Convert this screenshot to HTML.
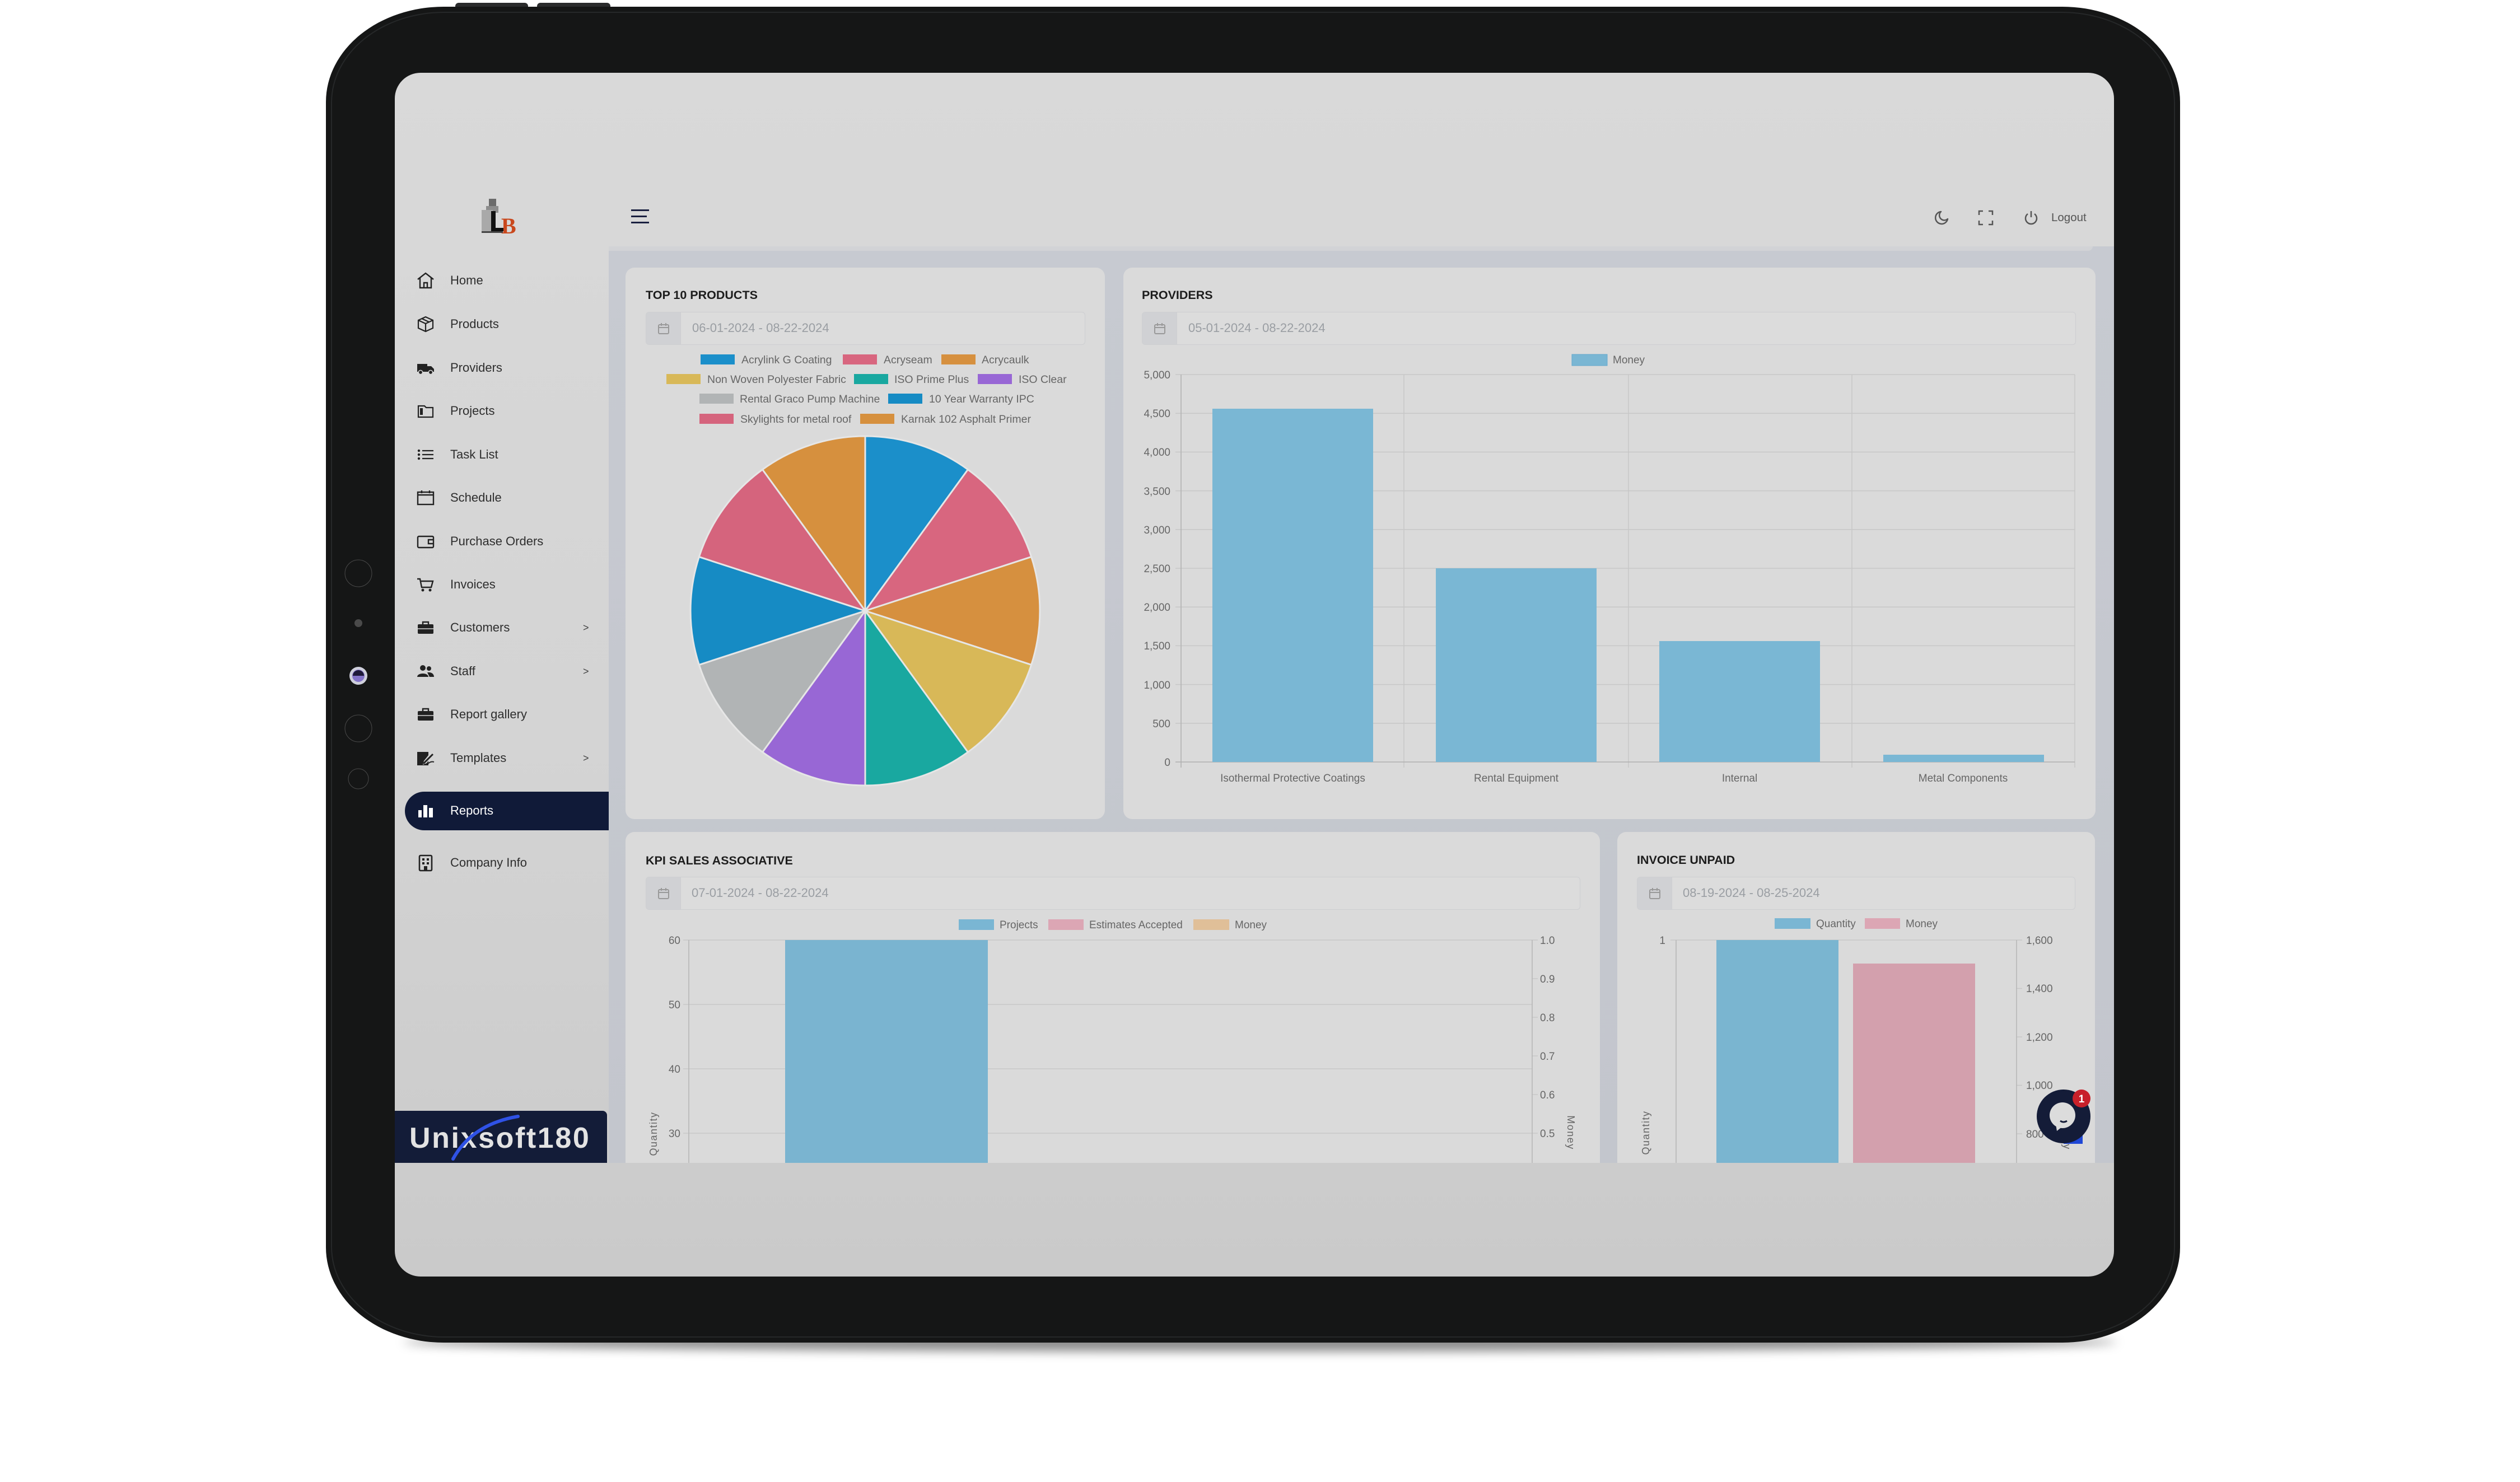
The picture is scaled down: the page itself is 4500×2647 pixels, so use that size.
<!DOCTYPE html>
<html><head><meta charset="utf-8">
<style>
*{margin:0;padding:0;box-sizing:border-box}
body{width:4500px;height:2647px;background:#fff;position:relative;overflow:hidden;font-family:"Liberation Sans",Arial,sans-serif}
.abs{position:absolute}
#shadow{left:720px;top:2380px;width:3060px;height:34px;background:rgba(0,0,0,0.45);filter:blur(9px);border-radius:50%}
#frame{left:582px;top:12px;width:3311px;height:2386px;background:#151616;border-radius:210px/170px}
#rim{left:591px;top:21px;width:3293px;height:2368px;border:2px solid #262829;border-radius:202px/162px}
#screen{left:705px;top:130px;width:3070px;height:2150px;border-radius:46px;overflow:hidden;background:linear-gradient(180deg,#d9d9d9 0%,#d4d4d4 55%,#cacaca 100%)}
.mi{position:absolute;left:99px;height:30px;line-height:30px;font-size:22px;color:#2e2e2e;white-space:nowrap}
.ico{position:absolute;left:38px;width:34px;height:34px}
.chev{position:absolute;left:336px;height:30px;line-height:30px;font-size:18px;color:#444}
#content{position:absolute;left:382px;top:310px;width:2688px;height:1637px;background:linear-gradient(180deg,#c7cad1,#c3c6cd);overflow:hidden}
.card{position:absolute;background:#dadada;border-radius:16px;overflow:hidden}
.title{position:absolute;font-weight:bold;font-size:21.5px;color:#1d1d1d;height:30px;line-height:30px;white-space:nowrap}
.date{position:absolute;height:59px;border:1.5px solid #cdced1;border-radius:6px;background:#dcdcdc;overflow:hidden}
.date .ad{position:absolute;left:0;top:0;width:62px;height:100%;background:#d0d1d4;border-right:1.5px solid #cdced1}
.date .tx{position:absolute;top:0;line-height:56px;font-size:22px;color:#9a9ea3;white-space:nowrap}
svg text{font-family:"Liberation Sans",Arial,sans-serif}
</style></head><body>

<div id="shadow" class="abs"></div>
<div class="abs" style="left:813px;top:5px;width:130px;height:12px;background:#2a2b2c;border-radius:6px 6px 0 0"></div>
<div class="abs" style="left:959px;top:5px;width:131px;height:12px;background:#2a2b2c;border-radius:6px 6px 0 0"></div>
<div id="frame" class="abs"></div>
<div id="rim" class="abs"></div>

<!-- bezel sensors -->
<svg class="abs" style="left:600px;top:980px" width="80" height="460">
<circle cx="40" cy="44" r="24" fill="none" stroke="#4a4a4a" stroke-width="1"/>
<circle cx="40" cy="133" r="7" fill="#4a4a4a"/>
<circle cx="40" cy="227" r="16" fill="#cfd0dc"/>
<circle cx="40" cy="227" r="11" fill="#8373c9"/>
<path d="M30,227 A10,10 0 0 1 50,227 Z" fill="#1e1a3a"/>
<circle cx="40" cy="321" r="24" fill="none" stroke="#4a4a4a" stroke-width="1"/>
<circle cx="40" cy="411" r="18" fill="none" stroke="#4a4a4a" stroke-width="1"/>
</svg>

<div id="screen" class="abs">

  <!-- logo -->
  <svg class="abs" style="left:150px;top:220px" width="80" height="75">
    <rect x="18" y="5" width="13" height="22" fill="#6c6c6c"/>
    <rect x="13" y="18" width="22" height="12" fill="#8d8d8d"/>
    <rect x="5" y="25" width="20" height="40" fill="#a9a9a9"/>
    <rect x="22" y="27" width="8" height="36" fill="#111"/>
    <rect x="22" y="57" width="22" height="6" fill="#111"/>
    <text x="40" y="67" font-size="40" font-weight="bold" style="font-family:'Liberation Serif',serif" fill="#c9481d">B</text>
    <rect x="5" y="63" width="38" height="3" fill="#444"/>
  </svg>

  <!-- hamburger -->
  <div class="abs" style="left:422px;top:244px;width:32px;height:3px;background:#1a2040"></div>
  <div class="abs" style="left:422px;top:255px;width:28px;height:3px;background:#1a2040"></div>
  <div class="abs" style="left:422px;top:266px;width:32px;height:3px;background:#1a2040"></div>

  <!-- header right -->
  <svg class="abs" style="left:2748px;top:245px" width="28" height="28"><path d="M13 3 A11 11 0 1 0 25 16 A8.5 8.5 0 0 1 13 3 Z" fill="none" stroke="#555" stroke-width="2.5" stroke-linejoin="round"/></svg>
  <svg class="abs" style="left:2827px;top:245px" width="28" height="28"><path d="M2 9 V2 H9 M19 2 H26 V9 M26 19 V26 H19 M9 26 H2 V19" fill="none" stroke="#555" stroke-width="2.5"/></svg>
  <svg class="abs" style="left:2908px;top:245px" width="28" height="28"><path d="M8 7 A10 10 0 1 0 20 7" fill="none" stroke="#555" stroke-width="2.5"/><path d="M14 2 V13" stroke="#555" stroke-width="2.5"/></svg>
  <div class="abs" style="left:2958px;top:244px;height:30px;line-height:30px;font-size:20.5px;color:#555">Logout</div>

  <!-- sidebar -->
  <svg class="ico" style="top:354px" viewBox="0 0 34 34"><path d="M3 15 L17 4 L31 15 M7 12 V30 H27 V12 M14 30 V21 H20 V30" fill="none" stroke="#222" stroke-width="2.4"/></svg>
  <div class="mi" style="top:356px">Home</div>
  <svg class="ico" style="top:432px" viewBox="0 0 34 34"><path d="M17 4 L30 10 V24 L17 30 L4 24 V10 Z M4 10 L17 16 L30 10 M17 16 V30 M10 7 L23 13" fill="none" stroke="#222" stroke-width="2.2"/></svg>
  <div class="mi" style="top:434px">Products</div>
  <svg class="ico" style="top:510px" viewBox="0 0 34 34"><path d="M2 10 H20 V24 H2 Z M20 14 H27 L32 19 V24 H20 Z" fill="#222"/><circle cx="8" cy="25" r="3.6" fill="#222" stroke="#d6d6d6" stroke-width="1.5"/><circle cx="26" cy="25" r="3.6" fill="#222" stroke="#d6d6d6" stroke-width="1.5"/></svg>
  <div class="mi" style="top:512px">Providers</div>
  <svg class="ico" style="top:587px" viewBox="0 0 34 34"><path d="M4 8 H15 L18 11 H30 V28 H4 Z" fill="none" stroke="#222" stroke-width="2.2"/><rect x="7" y="12" width="5" height="12" fill="#222"/></svg>
  <div class="mi" style="top:589px">Projects</div>
  <svg class="ico" style="top:665px" viewBox="0 0 34 34"><circle cx="5" cy="10" r="2.2" fill="#222"/><circle cx="5" cy="17" r="2.2" fill="#222"/><circle cx="5" cy="24" r="2.2" fill="#222"/><path d="M11 10 H31 M11 17 H31 M11 24 H31" stroke="#222" stroke-width="2.2"/></svg>
  <div class="mi" style="top:667px">Task List</div>
  <svg class="ico" style="top:742px" viewBox="0 0 34 34"><rect x="3" y="7" width="28" height="22" fill="none" stroke="#222" stroke-width="2.4"/><path d="M3 12 H31 M10 4 V9 M24 4 V9" stroke="#222" stroke-width="2.4"/></svg>
  <div class="mi" style="top:744px">Schedule</div>
  <svg class="ico" style="top:820px" viewBox="0 0 34 34"><rect x="3" y="8" width="28" height="20" rx="2" fill="none" stroke="#222" stroke-width="2.4"/><path d="M31 14 H22 V21 H31" fill="none" stroke="#222" stroke-width="2.4"/></svg>
  <div class="mi" style="top:822px">Purchase Orders</div>
  <svg class="ico" style="top:897px" viewBox="0 0 34 34"><path d="M2 7 H7 L10 22 H27 L30 11 H9" fill="none" stroke="#222" stroke-width="2.4"/><circle cx="12" cy="27" r="2.5" fill="#222"/><circle cx="25" cy="27" r="2.5" fill="#222"/></svg>
  <div class="mi" style="top:899px">Invoices</div>
  <svg class="ico" style="top:974px" viewBox="0 0 34 34"><rect x="3" y="11" width="28" height="17" rx="2" fill="#222"/><path d="M12 11 V7 H22 V11" fill="none" stroke="#222" stroke-width="2.4"/><path d="M3 19 H31" stroke="#d6d6d6" stroke-width="1.5"/></svg>
  <div class="mi" style="top:976px">Customers</div><div class="chev" style="top:976px">&gt;</div>
  <svg class="ico" style="top:1052px" viewBox="0 0 34 34"><circle cx="12" cy="11" r="5" fill="#222"/><path d="M2 27 C2 19 22 19 22 27 Z" fill="#222"/><circle cx="23" cy="12" r="4" fill="#222"/><path d="M20 19 C28 18 32 22 32 27 H24" fill="#222"/></svg>
  <div class="mi" style="top:1054px">Staff</div><div class="chev" style="top:1054px">&gt;</div>
  <svg class="ico" style="top:1129px" viewBox="0 0 34 34"><rect x="3" y="11" width="28" height="17" rx="2" fill="#222"/><path d="M12 11 V7 H22 V11" fill="none" stroke="#222" stroke-width="2.4"/><path d="M3 19 H31" stroke="#d6d6d6" stroke-width="1.5"/></svg>
  <div class="mi" style="top:1131px">Report gallery</div>
  <svg class="ico" style="top:1207px" viewBox="0 0 34 34"><path d="M2 6 H22 V12 L14 22 L12 29 L19 26 L22 22 V30 H2 Z" fill="#222"/><path d="M13 27 L30 10" stroke="#222" stroke-width="3"/><path d="M20 28 Q26 22 32 24" fill="none" stroke="#222" stroke-width="2"/></svg>
  <div class="mi" style="top:1209px">Templates</div><div class="chev" style="top:1209px">&gt;</div>
  <div class="abs" style="left:18px;top:1284px;width:364px;height:69px;background:#101a38;border-radius:35px 0 0 35px"></div>
  <svg class="ico" style="top:1301px" viewBox="0 0 34 34"><rect x="4" y="16" width="6" height="13" fill="#fff"/><rect x="13" y="7" width="7" height="22" fill="#fff"/><rect x="23" y="12" width="7" height="17" fill="#fff"/></svg>
  <div class="mi" style="top:1303px;color:#fff">Reports</div>
  <svg class="ico" style="top:1394px" viewBox="0 0 34 34"><rect x="6" y="4" width="22" height="27" rx="2" fill="none" stroke="#222" stroke-width="2.6"/><rect x="11" y="9" width="4" height="4" fill="#222"/><rect x="19" y="9" width="4" height="4" fill="#222"/><rect x="11" y="16" width="4" height="4" fill="#222"/><rect x="19" y="16" width="4" height="4" fill="#222"/><rect x="14" y="23" width="6" height="8" fill="#222"/></svg>
  <div class="mi" style="top:1396px">Company Info</div>

  <!-- Unixsoft banner -->
  <div class="abs" style="left:0;top:1854px;width:379px;height:93px;background:#131c38;border-radius:0 8px 0 0"></div>
  <div class="abs" style="left:26px;top:1872px;height:62px;line-height:62px;font-size:52px;font-weight:bold;letter-spacing:2.6px;color:#e3e3e3;white-space:nowrap">Unixsoft180</div>
  <svg class="abs" style="left:0;top:1854px" width="379" height="93"><path d="M104 86 Q138 24 220 10" fill="none" stroke="#2f52e6" stroke-width="6" stroke-linecap="round"/></svg>

  <!-- content -->
  <div id="content">
    <div class="abs" style="left:0;top:0;width:2650px;height:8px;background:#d2d3d6;border-radius:0 0 8px 0"></div>

    <!-- Card 1 -->
    <div class="card" style="left:30px;top:38px;width:856px;height:985px">
      <div class="title" style="left:36px;top:34px">TOP 10 PRODUCTS</div>
      <div class="date" style="left:36px;top:79px;width:785px">
        <div class="ad"></div>
        <svg class="abs" style="left:20px;top:18px" width="22" height="22"><rect x="2" y="4" width="18" height="16" rx="2" fill="none" stroke="#999" stroke-width="2"/><path d="M2 9 H20 M7 1 V6 M15 1 V6" stroke="#999" stroke-width="2"/></svg>
        <div class="tx" style="left:82px">06-01-2024 - 08-22-2024</div>
      </div>
      <svg class="abs" style="left:0;top:0" width="856" height="985">
        <g font-size="19.5" fill="#666">
          <rect x="134" y="155" width="61" height="18" fill="#1b8fca"/><text x="207" y="171">Acrylink G Coating</text>
          <rect x="388" y="155" width="61" height="18" fill="#d8667f"/><text x="461" y="171">Acryseam</text>
          <rect x="564" y="155" width="61" height="18" fill="#d6903f"/><text x="636" y="171">Acrycaulk</text>
          <rect x="73" y="190" width="61" height="18" fill="#d8b858"/><text x="146" y="206">Non Woven Polyester Fabric</text>
          <rect x="408" y="190" width="61" height="18" fill="#19a8a0"/><text x="480" y="206">ISO Prime Plus</text>
          <rect x="629" y="190" width="61" height="18" fill="#9867d5"/><text x="702" y="206">ISO Clear</text>
          <rect x="132" y="225" width="61" height="18" fill="#b1b4b5"/><text x="204" y="241">Rental Graco Pump Machine</text>
          <rect x="469" y="225" width="61" height="18" fill="#168bc4"/><text x="542" y="241">10 Year Warranty IPC</text>
          <rect x="132" y="261" width="61" height="18" fill="#d5647d"/><text x="205" y="277">Skylights for metal roof</text>
          <rect x="419" y="261" width="61" height="18" fill="#d6903e"/><text x="492" y="277">Karnak 102 Asphalt Primer</text>
        </g>
        <g stroke="#e6e6e6" stroke-width="3" stroke-linejoin="round">
          <path d="M428,613 L428,301 A312,312 0 0 1 611.4,360.6 Z" fill="#1b8fca"/>
          <path d="M428,613 L611.4,360.6 A312,312 0 0 1 724.7,516.6 Z" fill="#d8667f"/>
          <path d="M428,613 L724.7,516.6 A312,312 0 0 1 724.7,709.4 Z" fill="#d6903f"/>
          <path d="M428,613 L724.7,709.4 A312,312 0 0 1 611.4,865.4 Z" fill="#d8b858"/>
          <path d="M428,613 L611.4,865.4 A312,312 0 0 1 428,925 Z" fill="#19a8a0"/>
          <path d="M428,613 L428,925 A312,312 0 0 1 244.6,865.4 Z" fill="#9867d5"/>
          <path d="M428,613 L244.6,865.4 A312,312 0 0 1 131.3,709.4 Z" fill="#b1b4b5"/>
          <path d="M428,613 L131.3,709.4 A312,312 0 0 1 131.3,516.6 Z" fill="#168bc4"/>
          <path d="M428,613 L131.3,516.6 A312,312 0 0 1 244.6,360.6 Z" fill="#d5647d"/>
          <path d="M428,613 L244.6,360.6 A312,312 0 0 1 428,301 Z" fill="#d6903e"/>
        </g>
      </svg>
    </div>

    <!-- Card 2 -->
    <div class="card" style="left:919px;top:38px;width:1736px;height:985px">
      <div class="title" style="left:33px;top:34px">PROVIDERS</div>
      <div class="date" style="left:33px;top:79px;width:1668px">
        <div class="ad"></div>
        <svg class="abs" style="left:20px;top:18px" width="22" height="22"><rect x="2" y="4" width="18" height="16" rx="2" fill="none" stroke="#999" stroke-width="2"/><path d="M2 9 H20 M7 1 V6 M15 1 V6" stroke="#999" stroke-width="2"/></svg>
        <div class="tx" style="left:82px">05-01-2024 - 08-22-2024</div>
      </div>
      <svg class="abs" style="left:0;top:0" width="1736" height="985">
        <rect x="801" y="155" width="63" height="20" fill="#7ab6d3" stroke="#62a8cc" stroke-width="1"/>
        <text x="874" y="171" font-size="19" fill="#666">Money</text>
        <g stroke="#c7c7c7" stroke-width="1.5">
          <line x1="93" y1="191" x2="1699" y2="191"/><line x1="93" y1="260.2" x2="1699" y2="260.2"/>
          <line x1="93" y1="329.4" x2="1699" y2="329.4"/><line x1="93" y1="398.6" x2="1699" y2="398.6"/>
          <line x1="93" y1="467.8" x2="1699" y2="467.8"/><line x1="93" y1="537" x2="1699" y2="537"/>
          <line x1="93" y1="606.2" x2="1699" y2="606.2"/><line x1="93" y1="675.4" x2="1699" y2="675.4"/>
          <line x1="93" y1="744.6" x2="1699" y2="744.6"/><line x1="93" y1="813.8" x2="1699" y2="813.8"/>
          <line x1="501" y1="191" x2="501" y2="893"/><line x1="902" y1="191" x2="902" y2="893"/>
          <line x1="1301" y1="191" x2="1301" y2="893"/><line x1="1699" y1="191" x2="1699" y2="893"/>
        </g>
        <g stroke="#b0b0b0" stroke-width="1.5"><line x1="93" y1="883" x2="1699" y2="883"/><line x1="103" y1="191" x2="103" y2="893"/></g>
        <g font-size="19" fill="#666" text-anchor="end">
          <text x="84" y="198">5,000</text><text x="84" y="267">4,500</text><text x="84" y="336">4,000</text>
          <text x="84" y="406">3,500</text><text x="84" y="475">3,000</text><text x="84" y="544">2,500</text>
          <text x="84" y="613">2,000</text><text x="84" y="682">1,500</text><text x="84" y="752">1,000</text>
          <text x="84" y="821">500</text><text x="84" y="890">0</text>
        </g>
        <g fill="#7ab7d4">
          <rect x="159" y="252" width="287" height="631"/>
          <rect x="558" y="537" width="287" height="346"/>
          <rect x="957" y="667" width="287" height="216"/>
          <rect x="1357" y="870" width="287" height="13"/>
        </g>
        <g font-size="19" fill="#666" text-anchor="middle">
          <text x="302.5" y="918">Isothermal Protective Coatings</text>
          <text x="701.5" y="918">Rental Equipment</text>
          <text x="1100.5" y="918">Internal</text>
          <text x="1499.5" y="918">Metal Components</text>
        </g>
      </svg>
    </div>

    <!-- Card 3 -->
    <div class="card" style="left:30px;top:1046px;width:1740px;height:700px">
      <div class="title" style="left:36px;top:36px">KPI SALES ASSOCIATIVE</div>
      <div class="date" style="left:36px;top:80px;width:1669px">
        <div class="ad"></div>
        <svg class="abs" style="left:20px;top:18px" width="22" height="22"><rect x="2" y="4" width="18" height="16" rx="2" fill="none" stroke="#999" stroke-width="2"/><path d="M2 9 H20 M7 1 V6 M15 1 V6" stroke="#999" stroke-width="2"/></svg>
        <div class="tx" style="left:81px">07-01-2024 - 08-22-2024</div>
      </div>
      <svg class="abs" style="left:0;top:0" width="1740" height="700">
        <g font-size="19" fill="#666">
          <rect x="595" y="156" width="63" height="19" fill="#7ab6d3"/><text x="668" y="172">Projects</text>
          <rect x="755" y="156" width="63" height="19" fill="#dca6b4"/><text x="828" y="172">Estimates Accepted</text>
          <rect x="1014" y="156" width="64" height="19" fill="#e0bf98"/><text x="1088" y="172">Money</text>
        </g>
        <g stroke="#c7c7c7" stroke-width="1.5">
          <line x1="103" y1="193" x2="1629" y2="193"/><line x1="103" y1="308" x2="1619" y2="308"/>
          <line x1="103" y1="423" x2="1619" y2="423"/><line x1="103" y1="538" x2="1619" y2="538"/>
          <line x1="103" y1="653" x2="1619" y2="653"/>
          <line x1="1619" y1="262" x2="1629" y2="262"/><line x1="1619" y1="331" x2="1629" y2="331"/>
          <line x1="1619" y1="400" x2="1629" y2="400"/><line x1="1619" y1="469" x2="1629" y2="469"/>
          <line x1="1619" y1="538" x2="1629" y2="538"/><line x1="1619" y1="607" x2="1629" y2="607"/>
        </g>
        <g stroke="#b5b5b5" stroke-width="1.5"><line x1="113" y1="193" x2="113" y2="700"/><line x1="1619" y1="193" x2="1619" y2="700"/></g>
        <g font-size="19" fill="#666" text-anchor="end">
          <text x="98" y="200">60</text><text x="98" y="315">50</text><text x="98" y="430">40</text><text x="98" y="545">30</text><text x="98" y="660">20</text>
        </g>
        <g font-size="19" fill="#666">
          <text x="1633" y="200">1.0</text><text x="1633" y="269">0.9</text><text x="1633" y="338">0.8</text>
          <text x="1633" y="407">0.7</text><text x="1633" y="476">0.6</text><text x="1633" y="545">0.5</text><text x="1633" y="614">0.4</text>
        </g>
        <rect x="285" y="193" width="362" height="507" fill="#7ab4d0"/>
        <text transform="translate(56,539) rotate(-90)" font-size="18" fill="#666" text-anchor="middle" letter-spacing="1.5">Quantity</text>
        <text transform="translate(1682,537) rotate(90)" font-size="18" fill="#666" text-anchor="middle" letter-spacing="1.5">Money</text>
      </svg>
    </div>

    <!-- Card 4 -->
    <div class="card" style="left:1801px;top:1046px;width:853px;height:700px">
      <div class="title" style="left:35px;top:35px">INVOICE UNPAID</div>
      <div class="date" style="left:35px;top:80px;width:783px">
        <div class="ad"></div>
        <svg class="abs" style="left:20px;top:18px" width="22" height="22"><rect x="2" y="4" width="18" height="16" rx="2" fill="none" stroke="#999" stroke-width="2"/><path d="M2 9 H20 M7 1 V6 M15 1 V6" stroke="#999" stroke-width="2"/></svg>
        <div class="tx" style="left:81px">08-19-2024 - 08-25-2024</div>
      </div>
      <svg class="abs" style="left:0;top:0" width="853" height="700">
        <g font-size="19" fill="#666">
          <rect x="281" y="154" width="64" height="19" fill="#7ab6d3"/><text x="355" y="170">Quantity</text>
          <rect x="442" y="154" width="63" height="19" fill="#dca6b4"/><text x="515" y="170">Money</text>
        </g>
        <g stroke="#c7c7c7" stroke-width="1.5">
          <line x1="95" y1="193" x2="723" y2="193"/>
          <line x1="713" y1="279.5" x2="723" y2="279.5"/><line x1="713" y1="366" x2="723" y2="366"/>
          <line x1="713" y1="452.5" x2="723" y2="452.5"/><line x1="713" y1="539" x2="723" y2="539"/>
          <line x1="713" y1="625.5" x2="723" y2="625.5"/>
        </g>
        <g stroke="#b5b5b5" stroke-width="1.5"><line x1="105" y1="193" x2="105" y2="700"/><line x1="713" y1="193" x2="713" y2="700"/></g>
        <text x="86" y="200" font-size="19" fill="#666" text-anchor="end">1</text>
        <g font-size="19" fill="#666">
          <text x="730" y="200">1,600</text><text x="730" y="286">1,400</text><text x="730" y="373">1,200</text>
          <text x="730" y="459">1,000</text><text x="730" y="546">800</text><text x="730" y="632">600</text>
        </g>
        <rect x="177" y="193" width="218" height="507" fill="#7ab5d0"/>
        <rect x="421" y="235" width="218" height="465" fill="#d3a0ad"/>
        <text transform="translate(57,537) rotate(-90)" font-size="18" fill="#666" text-anchor="middle" letter-spacing="1.5">Quantity</text>
        <text transform="translate(797,537) rotate(90)" font-size="18" fill="#666" text-anchor="middle" letter-spacing="1.5">Money</text>
      </svg>
    </div>
  </div>

  <!-- chat bubble -->
  <div class="abs" style="left:2980px;top:1880px;width:34px;height:33px;background:#1f47d6"></div>
  <svg class="abs" style="left:2928px;top:1810px" width="110" height="110">
    <circle cx="52" cy="54" r="48" fill="#141c38"/>
    <circle cx="50" cy="52" r="23" fill="#dcdcdc"/>
    <path d="M38 68 L40 80 L50 72 Z" fill="#dcdcdc"/>
    <path d="M46 62 Q52 66 58 62" fill="none" stroke="#141c38" stroke-width="3"/>
    <circle cx="84" cy="22" r="16" fill="#c8202a"/>
    <text x="84" y="29" font-size="19" font-weight="bold" fill="#fff" text-anchor="middle">1</text>
  </svg>
</div>
</body></html>
